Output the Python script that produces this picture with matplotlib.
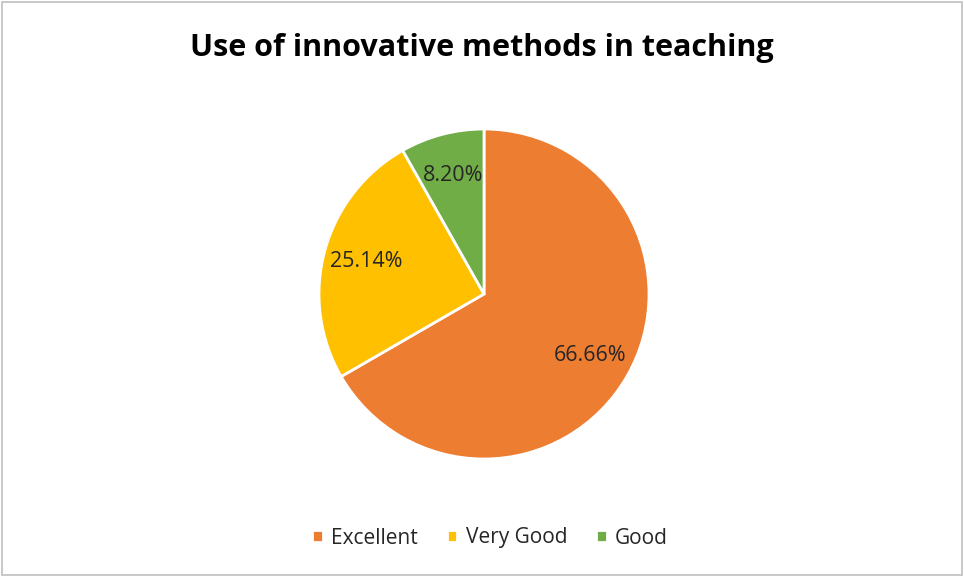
import matplotlib.pyplot as plt
from matplotlib.patches import Rectangle

# Data
categories = ['Excellent', 'Very Good', 'Good']
values = [66.66, 25.14, 8.20]
colors = ['#ED7D31', '#FFC000', '#70AD47']

plt.rcParams['font.family'] = ['Open Sans', 'DejaVu Sans']

fig = plt.figure(figsize=(9.64, 5.77), dpi=100)

# square axes so the pie sits where the original does
ax = fig.add_axes([319 / 964, 118 / 577, 330 / 964, 330 / 577])
wedges, texts, autotexts = ax.pie(
    values, colors=colors, startangle=90, counterclock=False,
    autopct=lambda p: '', pctdistance=0.74,
    wedgeprops=dict(edgecolor='white', linewidth=2))
for t, v in zip(autotexts, values):
    t.set_text(f'{v:.2f}%')
    t.set_fontsize(15.5)
    t.set_color('#262626')
ax.set_xlim(-1.0, 1.0)
ax.set_ylim(-1.0, 1.0)
ax.set_aspect('equal')

# Title and legend
fig.text(0.5, 1 - 48 / 577, 'Use of innovative methods in teaching',
         ha='center', va='center', fontsize=22, fontweight='bold', color='black')
fig.legend(wedges, categories, loc='center', bbox_to_anchor=(490 / 964, 1 - 538 / 577),
           ncol=3, frameon=False, fontsize=15, handlelength=0.5, handleheight=0.5,
           handletextpad=0.4, columnspacing=1.4, labelcolor='#262626')

# thin grey chart border
fig.patches.append(Rectangle((0.002, 0.003), 0.996, 0.994, transform=fig.transFigure,
                             fill=False, edgecolor='#BFBFBF', linewidth=1.2))

fig.savefig('out.png', dpi=100)
